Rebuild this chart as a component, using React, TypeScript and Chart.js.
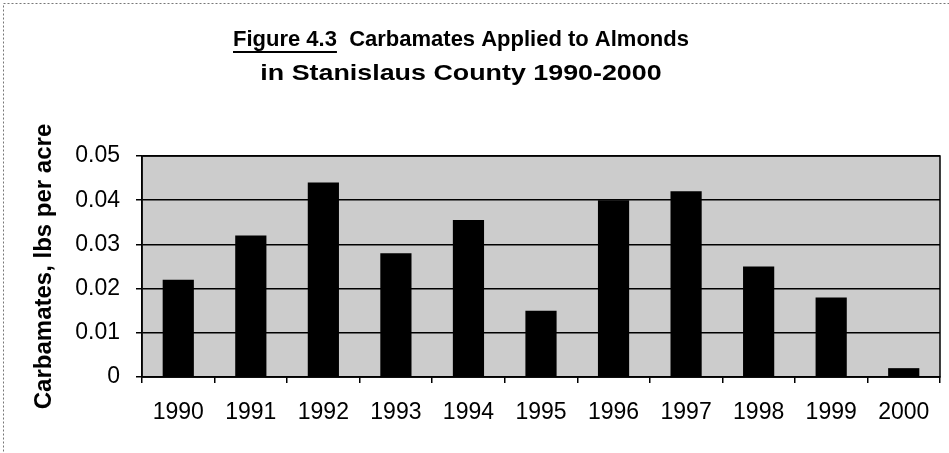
import React, { useEffect, useRef } from "react";
import { Chart, registerables } from "chart.js";

Chart.register(...registerables);

const categories = ["1990", "1991", "1992", "1993", "1994", "1995", "1996", "1997", "1998", "1999", "2000"];
const carbamates = [0.022, 0.032, 0.044, 0.028, 0.0355, 0.015, 0.040, 0.042, 0.025, 0.018, 0.002];
const yTickValues = [0, 0.01, 0.02, 0.03, 0.04, 0.05];
const yTickLabels = ["0", "0.01", "0.02", "0.03", "0.04", "0.05"];
const titleUnderlined = "Figure 4.3";
const titleRest = "  Carbamates Applied to Almonds";
const titleLine2 = "in Stanislaus County 1990-2000";
const yAxisTitle = "Carbamates, lbs per acre";

const FONT = "'Liberation Sans', Arial, sans-serif";

const decorPlugin = {
  id: "decor",
  beforeDraw(chart: any) {
    const { ctx, chartArea, width, height } = chart;
    ctx.save();
    // outer dotted frame
    ctx.strokeStyle = "#777";
    ctx.lineWidth = 1;
    ctx.setLineDash([2, 2]);
    ctx.strokeRect(3.5, 3.5, width + 20, height + 20);
    ctx.setLineDash([]);
    // plot background
    ctx.fillStyle = "#cccccc";
    ctx.fillRect(chartArea.left, chartArea.top, chartArea.right - chartArea.left, chartArea.bottom - chartArea.top);
    // title
    ctx.fillStyle = "#000";
    ctx.font = `bold 22px ${FONT}`;
    ctx.textBaseline = "middle";
    const cx = 461;
    const w1 = ctx.measureText(titleUnderlined).width;
    const w2 = ctx.measureText(titleRest).width;
    const start = cx - (w1 + w2) / 2;
    ctx.textAlign = "left";
    ctx.fillText(titleUnderlined, start, 40);
    ctx.fillText(titleRest, start + w1, 40);
    ctx.fillRect(start, 51, w1, 2);
    ctx.save();
    ctx.translate(cx, 74);
    ctx.scale(1.22, 1);
    ctx.textAlign = "center";
    ctx.fillText(titleLine2, 0, 0);
    ctx.restore();
    ctx.restore();
  },
  afterDraw(chart: any) {
    const { ctx, chartArea } = chart;
    ctx.save();
    ctx.strokeStyle = "#000";
    ctx.lineWidth = 1.5;
    ctx.strokeRect(chartArea.left, chartArea.top, chartArea.right - chartArea.left, chartArea.bottom - chartArea.top);
    ctx.restore();
  },
};

export default function App() {
  const ref = useRef<HTMLCanvasElement>(null);
  useEffect(() => {
    if (!ref.current) return;
    const chart = new Chart(ref.current, {
      type: "bar",
      data: {
        labels: categories,
        datasets: [
          {
            data: carbamates,
            backgroundColor: "#000",
            borderWidth: 0,
            categoryPercentage: 1,
            barPercentage: 0.43,
          },
        ],
      },
      options: {
        animation: false,
        responsive: false,
        devicePixelRatio: 1,
        layout: { padding: { top: 156, left: 0, right: 9, bottom: 0 } },
        plugins: { legend: { display: false }, tooltip: { enabled: false }, title: { display: false } },
        scales: {
          x: {
            offset: true,
            grid: { offset: true, drawOnChartArea: false, drawTicks: true, tickLength: 6, color: "#000", lineWidth: 1.5 },
            border: { color: "#000", width: 1.5 },
            ticks: { color: "#000", font: { family: FONT, size: 23 }, padding: 16, maxRotation: 0 },
            afterFit: (s: any) => { s.height = 76; },
          },
          y: {
            min: 0,
            max: 0.05,
            afterBuildTicks: (s: any) => { s.ticks = yTickValues.map((v) => ({ value: v })); },
            grid: { color: "#000", lineWidth: 1.5, drawTicks: true, tickLength: 6 },
            border: { color: "#000", width: 1.5 },
            ticks: {
              color: "#000",
              font: { family: FONT, size: 23 },
              padding: 16,
              callback: (v: any) => yTickLabels[yTickValues.findIndex((t) => Math.abs(t - v) < 1e-9)] ?? "",
            },
            title: { display: true, text: yAxisTitle, color: "#000", font: { family: FONT, size: 24, weight: "bold" }, padding: { top: 30, bottom: 0 } },
            afterFit: (s: any) => { s.width = 142; },
          },
        },
      },
      plugins: [decorPlugin],
    });
    return () => chart.destroy();
  }, []);
  return (
    <div style={{ position: "fixed", left: 0, top: 0, width: 949, height: 453, background: "#fff" }}>
      <canvas ref={ref} width={949} height={453} style={{ width: 949, height: 453, display: "block" }} />
    </div>
  );
}
